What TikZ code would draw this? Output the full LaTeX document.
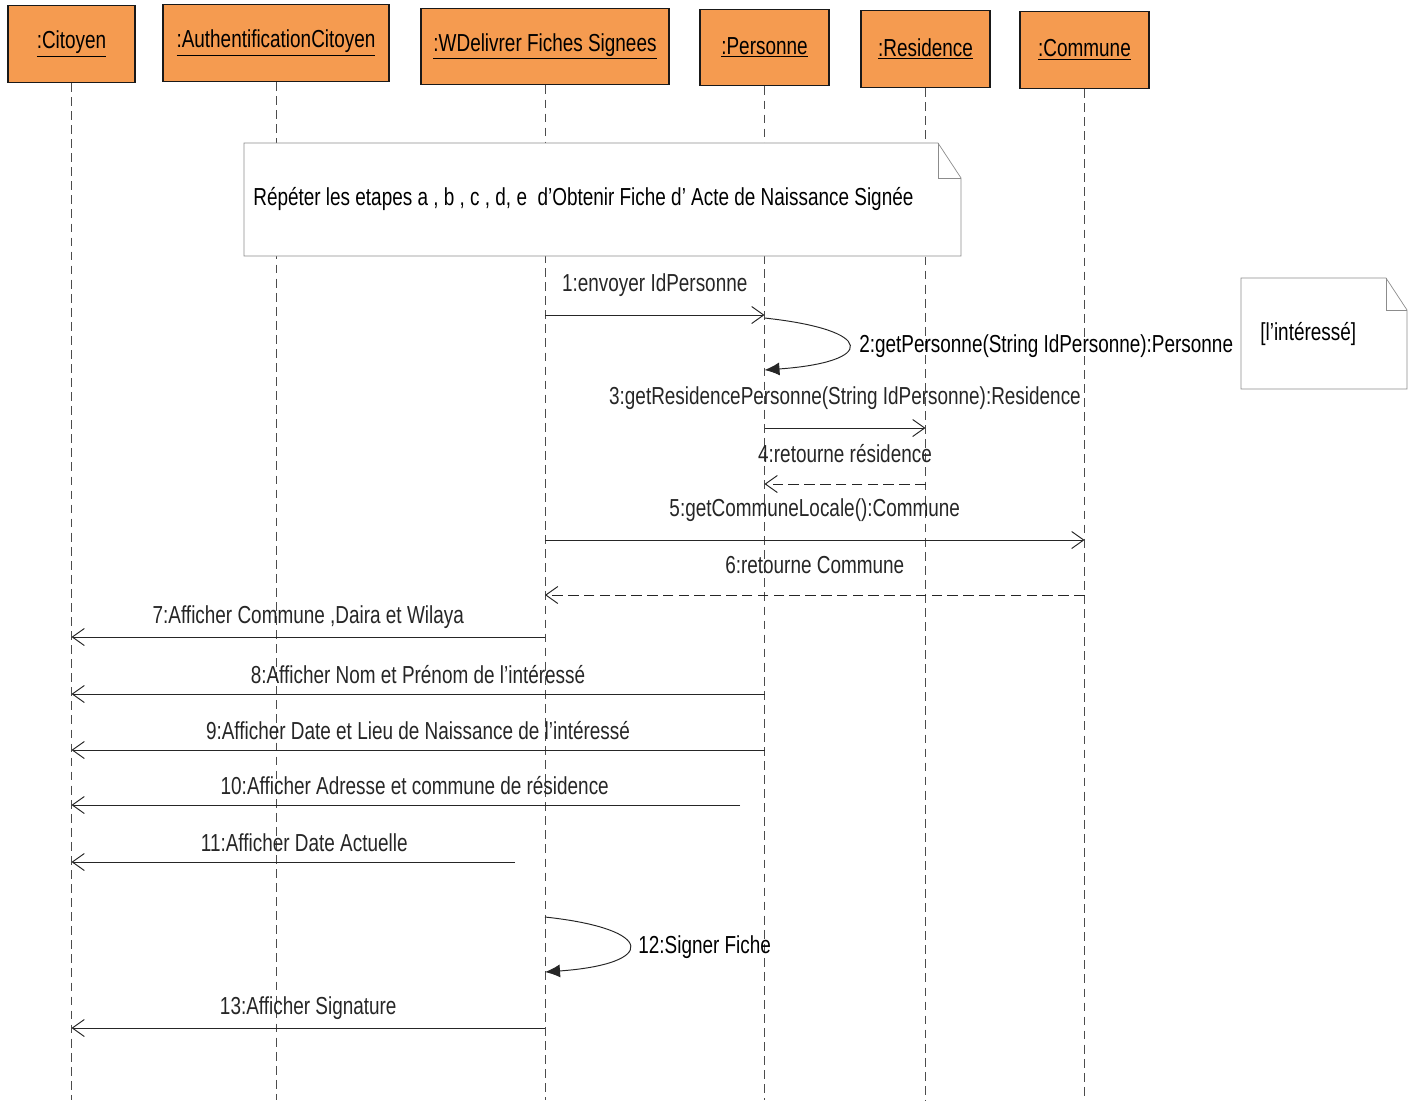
\documentclass[tikz,border=0pt]{standalone}
\usepackage{fontspec}
\setmainfont{Liberation Sans}[FakeStretch=0.77]
\usetikzlibrary{arrows.meta}
\definecolor{objorange}{RGB}{245,155,80}

\begin{document}
\begin{tikzpicture}[x=0.02cm, y=-0.02cm,
  obj/.style={draw=black!90, line width=0.8pt, fill=objorange, minimum height=1.53cm,
    inner sep=0pt, font=\fontsize{14}{16}\selectfont},
  lifeline/.style={draw=black!70, dash pattern=on 5pt off 3pt},
  msg/.style={-{Straight Barb[length=2.4mm,width=3.4mm]}, black!85, line width=0.55pt},
  ret/.style={msg, dash pattern=on 6pt off 3pt},
  selfmsg/.style={-{Latex[length=3mm,width=2.6mm]}, black!85, line width=0.55pt},
  lbl/.style={font=\fontsize{14}{16}\selectfont, inner sep=0pt},
  lblhi/.style={lbl, yshift=0.6cm},
  lbllo/.style={lbl, yshift=0.39cm},
  notebox/.style={draw=black!45, fill=white}
]
\useasboundingbox (0,0) rectangle (1414,1100);

% objects
\node[obj, minimum width=2.54cm] (citoyen) at (71.5,44) {\underline{:Citoyen}};
\node[obj, minimum width=4.52cm] (auth) at (276,43) {\underline{:AuthentificationCitoyen}};
\node[obj, minimum width=4.96cm] (wdelivrer) at (545,46.5) {\underline{:WDelivrer Fiches Signees}};
\node[obj, minimum width=2.58cm] (personne) at (764.5,47.5) {\underline{:Personne}};
\node[obj, minimum width=2.58cm] (residence) at (925.5,49) {\underline{:Residence}};
\node[obj, minimum width=2.58cm] (commune) at (1084.5,50) {\underline{:Commune}};

% lifelines
\foreach \o in {citoyen,auth,wdelivrer,personne,residence,commune}
  \draw[lifeline] (\o.south) -- (\o.south |- 0,1100);

% notes
\draw[notebox] (244,143) -- (938,143) -- (961,178) -- (961,256) -- (244,256) -- cycle;
\draw[draw=black!45] (938,143) -- (938,178) -- (961,178);
\node[lbl, anchor=west] (repeat) at (253,199)
  {Répéter les etapes a , b , c , d, e \ d'Obtenir Fiche d' Acte de Naissance Signée};
\draw[notebox] (1241,278) -- (1386,278) -- (1407,310) -- (1407,389) -- (1241,389) -- cycle;
\draw[draw=black!45] (1386,278) -- (1386,310) -- (1407,310);
\node[lbl, anchor=west] (interesse) at (1260,334) {[l'intéressé]};

% messages
\draw[msg] (wdelivrer |- 0,315) -- node[lblhi] (m1) {1:envoyer IdPersonne} (personne |- 0,315);
\draw[selfmsg] (personne |- 0,318) .. controls +(112,12) and +(112,-8) .. (personne |- 0,370);
\node[lbl, anchor=west] (m2) at (859,346) {2:getPersonne(String IdPersonne):Personne};
\draw[msg] (personne |- 0,428) -- node[lblhi] (m3) {3:getResidencePersonne(String IdPersonne):Residence} (residence |- 0,428);
\draw[ret] (residence |- 0,484) -- node[lblhi] (m4) {4:retourne résidence} (personne |- 0,484);
\draw[msg] (wdelivrer |- 0,540) -- node[lblhi] (m5) {5:getCommuneLocale():Commune} (commune |- 0,540);
\draw[ret] (commune |- 0,595) -- node[lblhi] (m6) {6:retourne Commune} (wdelivrer |- 0,595);
\draw[msg] (wdelivrer |- 0,637) -- node[lbllo] (m7) {7:Afficher Commune ,Daira et Wilaya} (citoyen |- 0,637);
\draw[msg] (personne |- 0,694) -- node[lbllo] (m8) {8:Afficher Nom et Prénom de l'intéressé} (citoyen |- 0,694);
\draw[msg] (personne |- 0,750) -- node[lbllo] (m9) {9:Afficher Date et Lieu de Naissance de l'intéressé} (citoyen |- 0,750);
\coordinate (s10) at (740,805);
\draw[msg] (s10) -- node[lbllo, xshift=0.18cm] (m10) {10:Afficher Adresse et commune de résidence} (citoyen |- s10);
\coordinate (s11) at (515,862);
\draw[msg] (s11) -- node[lbllo, xshift=0.22cm] (m11) {11:Afficher Date Actuelle} (citoyen |- s11);
\draw[selfmsg] (wdelivrer |- 0,917) .. controls +(112,12) and +(112,-8) .. (wdelivrer |- 0,972);
\node[lbl, anchor=west] (m12) at (638,947) {12:Signer Fiche};
\draw[msg] (wdelivrer |- 0,1028) -- node[lbllo] (m13) {13:Afficher Signature} (citoyen |- 0,1028);
\end{tikzpicture}
\end{document}
